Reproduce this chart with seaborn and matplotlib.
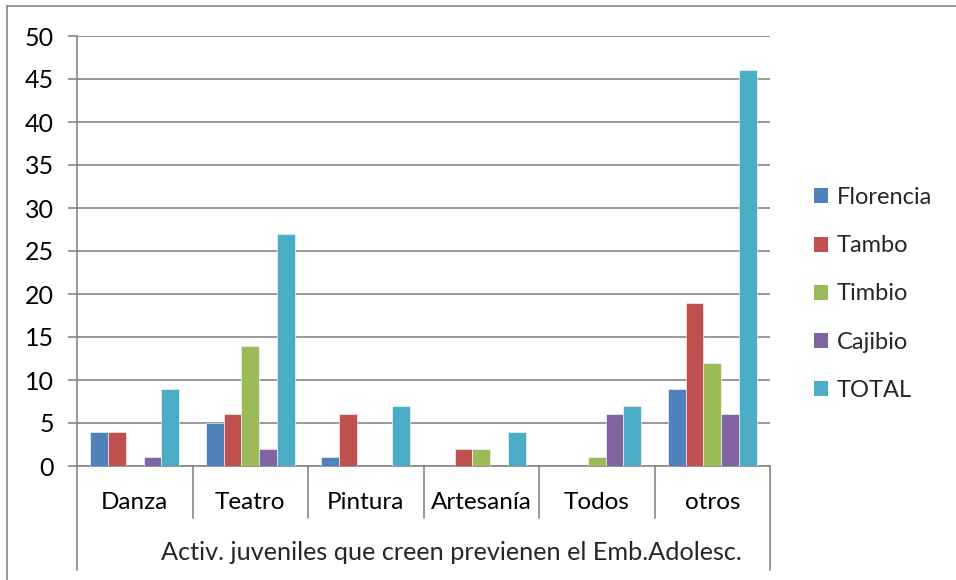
import matplotlib
matplotlib.use("Agg")
import matplotlib.pyplot as plt
import seaborn as sns
import pandas as pd
from matplotlib.lines import Line2D
from matplotlib.patches import Patch

categories = ["Danza", "Teatro", "Pintura", "Artesanía", "Todos", "otros"]
florencia = [4, 5, 1, 0, 0, 9]
tambo = [4, 6, 6, 2, 0, 19]
timbio = [0, 14, 0, 2, 1, 12]
cajibio = [1, 2, 0, 0, 6, 6]
total = [9, 27, 7, 4, 7, 46]
series_names = ["Florencia", "Tambo", "Timbio", "Cajibio", "TOTAL"]
colors = ["#4F81BD", "#C0504D", "#9BBB59", "#8064A2", "#4BACC6"]
x_title = "Activ. juveniles que creen previenen el Emb.Adolesc."

rows = []
for name, vals in zip(series_names, [florencia, tambo, timbio, cajibio, total]):
    for c, v in zip(categories, vals):
        rows.append({"cat": c, "serie": name, "val": v})
df = pd.DataFrame(rows)

sns.set_style("white")
plt.rcParams["font.family"] = ["Lato", "DejaVu Sans"]

W, H = 956, 580
fig = plt.figure(figsize=(W / 100, H / 100), dpi=100)
L, R, T, B = 77, 770, 36, 466
ax = fig.add_axes([L / W, 1 - B / H, (R - L) / W, (B - T) / H])

sns.barplot(data=df, x="cat", y="val", hue="serie", order=categories,
            hue_order=series_names, palette=colors, saturation=1, width=0.77,
            edgecolor="white", linewidth=0.4, ax=ax, legend=False, zorder=3)

gray = "#868686"
ax.set_ylim(0, 50)
ax.set_xlim(-0.5, 5.5)
ax.set_yticks(range(0, 51, 5))
ax.yaxis.grid(True, color=gray, linewidth=1.2, zorder=0)
ax.set_axisbelow(True)
for s in ["top", "right"]:
    ax.spines[s].set_visible(False)
for s in ["left", "bottom"]:
    ax.spines[s].set_color(gray)
    ax.spines[s].set_linewidth(1.2)
ax.tick_params(axis="y", length=6.5, width=1.2, color=gray, pad=10,
               labelsize=18, labelcolor="black", left=True)
ax.tick_params(axis="x", length=0, pad=19, labelsize=17.5, labelcolor="black")
ax.set_ylabel("")
ax.set_xlabel(x_title, fontsize=18.2)
ax.xaxis.set_label_coords((451 - L) / (R - L), -(553 - B) / (B - T))
ax.xaxis.label.set_va("center")

# multi-level category axis separators
tr = ax.get_xaxis_transform()
h1 = (518 - B) / (B - T)
h2 = (570 - B) / (B - T)
for i in range(len(categories) + 1):
    xb = i - 0.5
    depth = h2 if i in (0, len(categories)) else h1
    ax.add_line(Line2D([xb, xb], [0, -depth], transform=tr, color=gray,
                       linewidth=1.2, clip_on=False))

handles = [Patch(facecolor=c, edgecolor="none") for c in colors]
fig.legend(handles, series_names, loc="center left",
           bbox_to_anchor=(793 / W, 1 - 294 / H), frameon=False,
           fontsize=17, handlelength=0.6, handleheight=0.6,
           handletextpad=0.35, labelspacing=1.15)

# outer chart border
fig.add_artist(Line2D([7 / W, 7 / W], [0, 1 - 6 / H], color=gray, linewidth=1.2))
fig.add_artist(Line2D([7 / W, 1], [1 - 6 / H, 1 - 6 / H], color=gray, linewidth=1.2))

fig.savefig("out.png", dpi=100)
